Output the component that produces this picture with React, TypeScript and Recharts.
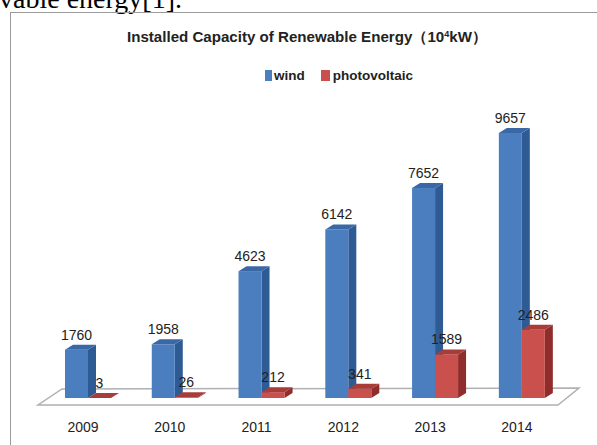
import { BarChart, Bar, XAxis, YAxis, Legend, LabelList } from 'recharts';

const years = ['2009', '2010', '2011', '2012', '2013', '2014'];
const wind = [1760, 1958, 4623, 6142, 7652, 9657];
const photovoltaic = [3, 26, 212, 341, 1589, 2486];

const data = years.map((year, i) => ({ year, wind: wind[i], photovoltaic: photovoltaic[i] }));

const COLORS: any = {
  wind: { front: '#4A7EBF', side: '#2F5B94', top: '#3A68A6' },
  photovoltaic: { front: '#C9504C', side: '#8E2D2B', top: '#A83C39' },
};

const DX = 8;
const DY = 5;

const Bar3D = (props: any) => {
  const { x, y, width, height, dataKey } = props;
  const c = COLORS[dataKey] || COLORS.wind;
  const side = `${x + width},${y} ${x + width + DX},${y - DY} ${x + width + DX},${y + height - DY} ${x + width},${y + height}`;
  const top = `${x},${y} ${x + DX},${y - DY} ${x + width + DX},${y - DY} ${x + width},${y}`;
  return (
    <g>
      <polygon points={side} fill={c.side} />
      <rect x={x} y={y} width={width} height={Math.max(height, 0)} fill={c.front} />
      <polygon points={top} fill={c.top} />
    </g>
  );
};

const renderValue = (props: any) => {
  const { x, y, width, value } = props;
  return (
    <text x={x + width / 2} y={y - 10} textAnchor="middle" fontSize={14} fill="#222" fontFamily="Liberation Sans, Arial, sans-serif">
      {value}
    </text>
  );
};

const YearTick = (props: any) => {
  const { x, y, payload } = props;
  return (
    <text x={x - 5} y={y + 34} textAnchor="middle" fontSize={14} fill="#222" fontFamily="Liberation Sans, Arial, sans-serif">
      {payload.value}
    </text>
  );
};

const renderLegend = () => (
  <div style={{ display: 'flex', alignItems: 'center', fontFamily: 'Liberation Sans, Arial, sans-serif', fontWeight: 'bold', fontSize: 13.5, color: '#222', whiteSpace: 'nowrap' }}>
    <span style={{ display: 'inline-block', width: 7, height: 11, background: COLORS.wind.front, marginRight: 2 }} />
    <span style={{ marginRight: 16 }}>wind</span>
    <span style={{ display: 'inline-block', width: 9, height: 11, background: COLORS.photovoltaic.front, marginRight: 3 }} />
    <span>photovoltaic</span>
  </div>
);

export default function App() {
  return (
    <div style={{ position: 'absolute', left: 0, top: 0, width: 597, height: 445, overflow: 'hidden', background: '#fff' }}>
      <svg width={597} height={445} style={{ position: 'absolute', left: 0, top: 0 }}>
        <text x={-1} y={8} fontFamily="Liberation Serif, Times New Roman, serif" fontSize={28} fill="#000">
          vable energy[1].
        </text>
        <rect x={10.5} y={12.5} width={620} height={460} fill="none" stroke="#9a9a9a" strokeWidth={1} />
        <text x={127} y={42} fontFamily="Liberation Sans, Arial, sans-serif" fontWeight="bold" fontSize={15} fill="#222" textLength={360} lengthAdjust="spacingAndGlyphs">
          Installed Capacity of Renewable Energy（10<tspan fontSize={9} dy={-5}>4</tspan><tspan dy={5}>kW）</tspan>
        </text>
        <polygon points="38,405 558,405 579,388 62,389" fill="#fff" stroke="#b0b0b0" strokeWidth={1.5} />
      </svg>
      <div style={{ position: 'absolute', left: 0, top: 0 }}>
        <BarChart
          width={597}
          height={445}
          data={data}
          margin={{ top: 123.6, right: 31.7, bottom: 17, left: 44.7 }}
          barCategoryGap="23.4%"
          barGap={0}
        >
          <XAxis dataKey="year" axisLine={false} tickLine={false} tickSize={0} tickMargin={0} height={30} tick={<YearTick />} interval={0} />
          <YAxis hide domain={[0, 10000]} />
          <Legend content={renderLegend} verticalAlign="middle" align="center" wrapperStyle={{ position: 'absolute', top: 68, left: 265, width: 'auto' }} />
          <Bar dataKey="wind" isAnimationActive={false} shape={(p: any) => <Bar3D {...p} dataKey="wind" />}>
            <LabelList dataKey="wind" content={renderValue} />
          </Bar>
          <Bar dataKey="photovoltaic" isAnimationActive={false} shape={(p: any) => <Bar3D {...p} dataKey="photovoltaic" />}>
            <LabelList dataKey="photovoltaic" content={renderValue} />
          </Bar>
        </BarChart>
      </div>
    </div>
  );
}
